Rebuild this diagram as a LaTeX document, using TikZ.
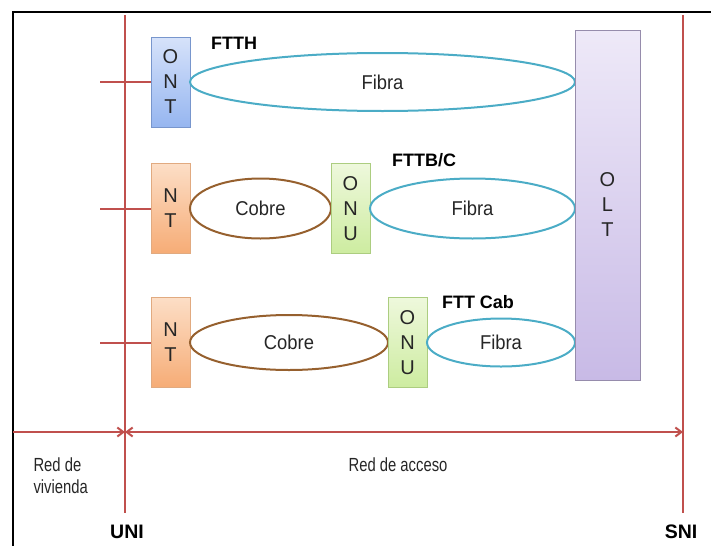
\documentclass[tikz,border=0pt]{standalone}
\usepackage{fontspec}
\setmainfont{Liberation Sans}
\newfontfamily\stretchfont[FakeStretch=0.92]{Liberation Sans}
\newfontfamily\narrowfont[FakeStretch=0.78]{Liberation Sans}
\usetikzlibrary{shapes.geometric,positioning,arrows.meta}
\definecolor{redline}{RGB}{192,80,77}
\definecolor{fibreline}{RGB}{75,172,198}
\definecolor{copperline}{RGB}{150,96,46}
\definecolor{ontTop}{RGB}{214,226,250}
\definecolor{ontBot}{RGB}{150,182,240}
\definecolor{ontLine}{RGB}{120,150,205}
\definecolor{ntTop}{RGB}{252,222,198}
\definecolor{ntBot}{RGB}{246,172,118}
\definecolor{ntLine}{RGB}{225,170,128}
\definecolor{onuTop}{RGB}{238,248,220}
\definecolor{onuBot}{RGB}{205,236,160}
\definecolor{onuLine}{RGB}{172,205,128}
\definecolor{oltTop}{RGB}{238,233,248}
\definecolor{oltBot}{RGB}{200,186,230}
\definecolor{oltLine}{RGB}{150,140,172}
\tikzset{
  wire/.style={draw=redline,line width=2pt},
  unit/.style={rectangle,draw=#1,line width=0.8pt,minimum width=39,minimum height=90,
    inner sep=0pt,outer sep=0pt,align=center,text=black!85,font=\fontsize{20}{25}\selectfont},
  ontbox/.style={unit=ontLine,top color=ontTop,bottom color=ontBot},
  ntbox/.style={unit=ntLine,top color=ntTop,bottom color=ntBot},
  onubox/.style={unit=onuLine,top color=onuTop,bottom color=onuBot},
  oltbox/.style={unit=oltLine,top color=oltTop,bottom color=oltBot},
  link/.style={ellipse,line width=2pt,inner sep=0pt,outer sep=0pt,text=black!85,
    font=\stretchfont\fontsize{20}{24}\selectfont},
  fibra/.style={link,draw=fibreline},
  cobre/.style={link,draw=copperline},
  tag/.style={font=\bfseries\fontsize{18}{22}\selectfont},
  bigtag/.style={font=\bfseries\fontsize{19.5}{22}\selectfont},
  zone/.style={text=black!85,font=\narrowfont\fontsize{19}{22}\selectfont}
}
\begin{document}
\begin{tikzpicture}[x=1pt,y=-1pt,>={Straight Barb[length=6pt,width=9pt]}]
  \useasboundingbox (0,0) rectangle (711,546);
  \draw[line width=2.5pt] (711,12) -- (13,12) -- (13,546);

  \draw[wire] (125,15) coordinate (uni top) -- (125,513) coordinate (uni bot);
  \draw[wire] (683,15) coordinate (sni top) -- (683,513) coordinate (sni bot);
  \coordinate (edge) at (100,0);
  \coordinate (home) at (13,432);

  \node[ontbox] (ont) at (170.5,82) {O\\N\\T};
  \node[fibra,minimum width=385,minimum height=58,right=0pt of ont] (fibra1) {Fibra};

  \node[ntbox] (nt2) at (170.5,208.5) {N\\T};
  \node[cobre,minimum width=141,minimum height=60,right=0pt of nt2] (cobre2) {Cobre};
  \node[onubox,right=0pt of cobre2] (onu2) {O\\N\\U};
  \node[fibra,minimum width=205,minimum height=60,right=0pt of onu2] (fibra2) {Fibra};

  \node[ntbox] (nt3) at (170.5,342.5) {N\\T};
  \node[cobre,minimum width=198,minimum height=55,right=0pt of nt3] (cobre3) {Cobre};
  \node[onubox,right=0pt of cobre3] (onu3) {O\\N\\U};
  \node[fibra,minimum width=148,minimum height=48,right=0pt of onu3] (fibra3) {Fibra};

  \node[oltbox,minimum width=65,minimum height=350] (olt) at (607.5,205) {O\\L\\T};

  \draw[wire] (edge |- ont.west) -- (ont.west);
  \draw[wire] (edge |- nt2.west) -- (nt2.west);
  \draw[wire] (edge |- nt3.west) -- (nt3.west);

  \node[tag] (ftth) at (234,43) {FTTH};
  \node[tag] (fttbc) at (424,160) {FTTB/C};
  \node[tag] (fttcab) at (478,302) {FTT Cab};

  \draw[wire,->] (home) -- (uni top |- home);
  \draw[wire,<->] (uni top |- home) -- (sni top |- home);

  \node[zone,anchor=west,align=left] (vivienda) at (30,476) {Red de\\vivienda};
  \node[zone] (acceso) at (398,465) {Red de acceso};
  \node[bigtag] (uni) at (127,532) {UNI};
  \node[bigtag] (sni) at (681,532) {SNI};
\end{tikzpicture}
\end{document}
